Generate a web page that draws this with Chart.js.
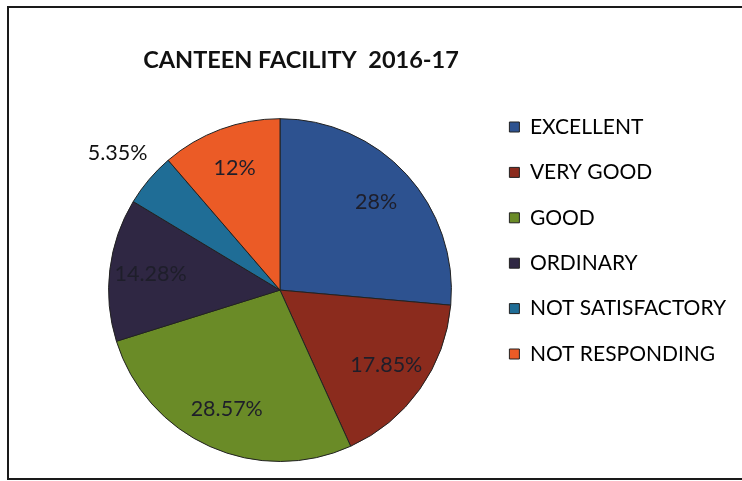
<!DOCTYPE html>
<html>
<head>
<script src="https://cdn.jsdelivr.net/npm/chart.js"></script>
<style>
    body {
        margin: 0;
        background: #fff;
    }
    canvas {
        display: block;
    }
</style>
</head>
<body>
<canvas id="pieChart" width="742" height="481"></canvas>
<script>
let labels = ['EXCELLENT', 'VERY GOOD', 'GOOD', 'ORDINARY', 'NOT SATISFACTORY', 'NOT RESPONDING'];
let percents = [28, 17.85, 28.57, 14.28, 5.35, 12];
let colors = ['#2d5290', '#8b2b1d', '#6a8b27', '#2f2743', '#1f6d96', '#eb5b26'];
let titleText = 'CANTEEN FACILITY  2016-17';

// legend sits on the right, boxes start near x=511
let legendSize = 21;
let legendPad = 24.4;
let m = document.createElement('canvas').getContext('2d');
m.font = legendSize + 'px Lato';
let widest = Math.max(...labels.map(t => m.measureText(t).width));
let padRight = Math.max(0, 742 - 485 - (legendPad + 10 + legendSize / 2 + widest) - 10);

let framePlugin = {
    id: 'frame',
    beforeDraw(chart) {
        let ctx = chart.ctx;
        ctx.save();
        ctx.fillStyle = '#fff';
        ctx.fillRect(0, 0, chart.width, chart.height);
        ctx.strokeStyle = '#1a1a1a';
        ctx.lineWidth = 2;
        ctx.strokeRect(8, 7, 780, 472);
        ctx.restore();
    },
    afterLayout(chart) {
        // title in the original sits a little right of the pie centre
        chart.titleBlock.left += 21;
        chart.titleBlock.right += 21;
    }
};

let valuePlugin = {
    id: 'values',
    afterDatasetsDraw(chart) {
        let ctx = chart.ctx;
        let meta = chart.getDatasetMeta(0);
        ctx.save();
        ctx.font = '21.5px Lato';
        ctx.textAlign = 'center';
        ctx.textBaseline = 'middle';
        meta.data.forEach((arc, i) => {
            let p = arc.getProps(['x', 'y', 'startAngle', 'endAngle', 'outerRadius']);
            let mid = (p.startAngle + p.endAngle) / 2;
            let outside = percents[i] < 8;
            let k = outside ? 1.24 : 0.76;
            ctx.fillStyle = outside ? '#111' : '#1e1e2a';
            ctx.fillText(percents[i] + '%', p.x + Math.cos(mid) * p.outerRadius * k, p.y + Math.sin(mid) * p.outerRadius * k);
        });
        ctx.restore();
    }
};

new Chart(document.getElementById('pieChart').getContext('2d'), {
    type: 'pie',
    data: {
        labels: labels,
        datasets: [{
            data: percents,
            backgroundColor: colors,
            borderColor: '#222',
            borderWidth: 1
        }]
    },
    options: {
        responsive: false,
        animation: false,
        layout: { padding: { left: 75, right: padRight, top: 19, bottom: 19 } },
        plugins: {
            title: {
                display: true,
                text: titleText,
                fullSize: false,
                color: '#111',
                font: { family: 'Lato', size: 23.5, weight: 'bold' },
                padding: { top: 27, bottom: 44 }
            },
            legend: {
                position: 'right',
                align: 'center',
                labels: {
                    color: '#000',
                    font: { family: 'Lato', size: legendSize },
                    boxWidth: 10,
                    boxHeight: 10,
                    padding: legendPad
                }
            },
            tooltip: { enabled: false }
        }
    },
    plugins: [framePlugin, valuePlugin]
});
</script>
</body>
</html>
